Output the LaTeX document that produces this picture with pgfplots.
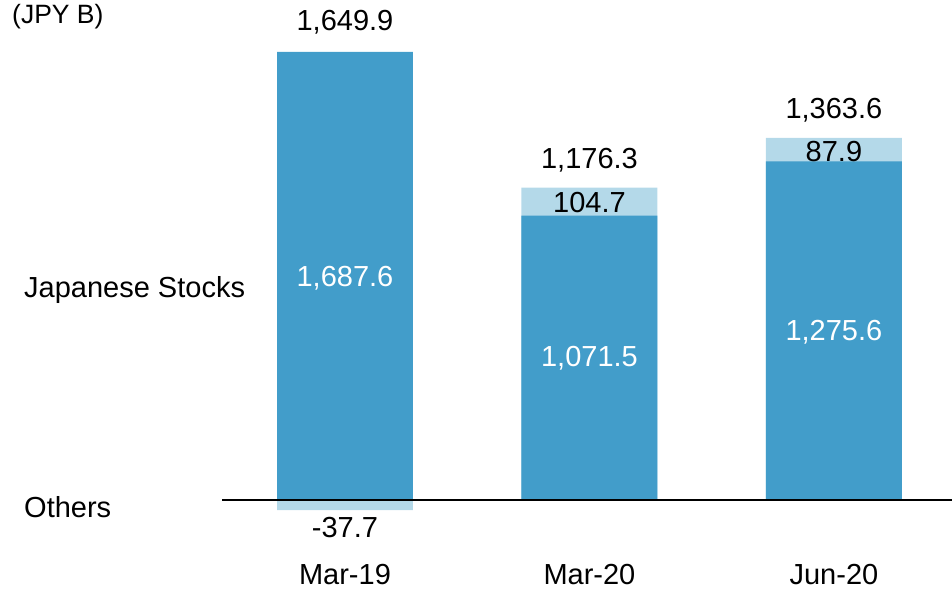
\documentclass[border=0pt]{standalone}
\usepackage{pgfplots}
\pgfplotsset{compat=1.18}
\usepackage{fontspec}
\setmainfont{Liberation Sans}
\definecolor{darkb}{RGB}{66,157,202}
\definecolor{lightb}{RGB}{180,217,233}
\begin{document}
\fontsize{29}{33}\selectfont
\begin{tikzpicture}[x=1pt,y=1pt]
\useasboundingbox (0,0) rectangle (952,595);
\begin{axis}[
  at={(222pt,0pt)}, anchor=south west,
  scale only axis, width=730pt, height=595pt,
  xmin=-0.503, xmax=2.483,
  ymin=-357.8, ymax=1883.2,
  axis line style={draw=none},
  ticks=none,
  ybar, bar shift=0pt, bar width=0.556,
  clip=false,
]
\addplot[fill=lightb, draw=none] coordinates {(0,-37.7) (1,1176.3) (2,1363.6)};
\addplot[fill=darkb, draw=none] coordinates {(0,1687.6) (1,1071.5) (2,1275.6)};
\draw[black, line width=1.3pt] (axis cs:-0.503,0) -- (axis cs:2.483,0);
\node at (axis cs:0,1800) {1,649.9};
\node[white] at (axis cs:0,836) {1,687.6};
\node at (axis cs:0,-102) {-37.7};
\node at (axis cs:1,1281) {1,176.3};
\node at (axis cs:1,1122) {104.7};
\node[white] at (axis cs:1,535) {1,071.5};
\node at (axis cs:2,1469) {1,363.6};
\node at (axis cs:2,1314) {87.9};
\node[white] at (axis cs:2,633) {1,275.6};
\node[inner sep=0pt] at (axis cs:0,-282) {Mar-19};
\node[inner sep=0pt] at (axis cs:1,-282) {Mar-20};
\node[inner sep=0pt] at (axis cs:2,-282) {Jun-20};
\end{axis}
\node[anchor=west, inner sep=0pt] at (24,305) {Japanese Stocks};
\node[anchor=west, inner sep=0pt] at (24,88) {Others};
\node[anchor=west, inner sep=0pt, font=\fontsize{26.5}{30}\selectfont] at (12,578) {(JPY B)};
\end{tikzpicture}
\end{document}
